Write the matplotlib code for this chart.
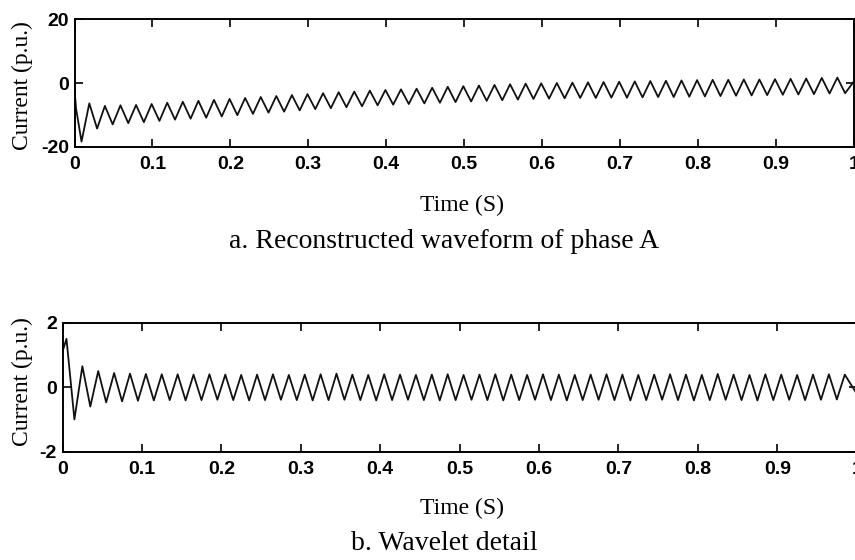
import numpy as np
import matplotlib.pyplot as plt

W, H = 855, 560

# ---- phase A reconstructed waveform (50 Hz, extrema)
a_start_t = [0.0, 0.002]
a_start_v = [-2.0, -8.0]
a_trough_t = np.arange(0.009, 1.0, 0.02)   # 50 troughs
a_trough_v = [-18.4, -14.3, -13.0, -12.6, -12.3, -11.9, -11.5, -11.2, -10.9, -10.5,
              -10.1, -9.7, -9.3, -9.0, -8.6, -8.2, -7.9, -7.6, -7.3, -7.0,
              -6.8, -6.6, -6.4, -6.2, -6.0, -5.8, -5.6, -5.4, -5.2, -5.0,
              -4.9, -4.8, -4.7, -4.7, -4.6, -4.6, -4.5, -4.4, -4.4, -4.3,
              -4.2, -4.1, -4.0, -3.9, -3.8, -3.7, -3.6, -3.5, -3.3, -3.2]
a_peak_t = np.arange(0.019, 0.99, 0.02)    # 49 peaks
a_peak_v = [-6.4, -7.2, -7.0, -6.9, -6.6, -6.2, -5.9, -5.6, -5.3, -5.0,
            -4.7, -4.4, -4.1, -3.8, -3.5, -3.2, -2.9, -2.7, -2.4, -2.2,
            -2.0, -1.8, -1.5, -1.2, -1.0, -0.8, -0.6, -0.4, -0.2, -0.1,
            0.0, 0.1, 0.2, 0.3, 0.4, 0.5, 0.6, 0.7, 0.8, 0.9,
            1.0, 1.0, 1.1, 1.1, 1.2, 1.3, 1.4, 1.6, 1.7]
a_end_t = [1.0]
a_end_v = [0.4]

# ---- wavelet detail
b_start_t = [0.0]
b_start_v = [1.1]
b_peak_t = np.arange(0.005, 0.99, 0.02)    # 50 peaks
b_peak_v = [1.5, 0.65, 0.5, 0.44, 0.42, 0.41, 0.40, 0.40, 0.39, 0.40,
            0.39, 0.38, 0.39, 0.40, 0.38, 0.39, 0.40, 0.42, 0.39, 0.38,
            0.40, 0.39, 0.38, 0.39, 0.40, 0.38, 0.39, 0.40, 0.39, 0.38,
            0.40, 0.39, 0.38, 0.39, 0.40, 0.39, 0.38, 0.39, 0.40, 0.39,
            0.38, 0.41, 0.39, 0.38, 0.40, 0.39, 0.38, 0.39, 0.40, 0.39]
b_trough_t = np.arange(0.015, 0.99, 0.02)  # 49 troughs
b_trough_v = [-1.0, -0.6, -0.47, -0.44, -0.42, -0.41, -0.40, -0.41, -0.40, -0.39,
              -0.40, -0.41, -0.40, -0.39, -0.40, -0.41, -0.40, -0.39, -0.40, -0.41,
              -0.40, -0.39, -0.40, -0.41, -0.40, -0.39, -0.40, -0.41, -0.40, -0.39,
              -0.40, -0.41, -0.40, -0.39, -0.40, -0.41, -0.40, -0.39, -0.40, -0.41,
              -0.40, -0.39, -0.40, -0.41, -0.40, -0.39, -0.40, -0.39, -0.38]
b_end_t = [1.0]
b_end_v = [-0.2]

xticks = [0, 0.1, 0.2, 0.3, 0.4, 0.5, 0.6, 0.7, 0.8, 0.9, 1]
xticklabels = ['0', '0.1', '0.2', '0.3', '0.4', '0.5', '0.6', '0.7', '0.8', '0.9', '1']


def series(*parts):
    t = np.concatenate([np.asarray(p[0], float) for p in parts])
    v = np.concatenate([np.asarray(p[1], float) for p in parts])
    o = np.argsort(t, kind='stable')
    return t[o], v[o]


def px_axes(fig, x0, x1, y0, y1):
    # pixel box (left, right, top, bottom) -> figure axes
    return fig.add_axes([x0 / W, 1 - y1 / H, (x1 - x0) / W, (y1 - y0) / H])


def style(ax, ylim, yticks):
    ax.set_xlim(0, 1)
    ax.set_ylim(*ylim)
    ax.set_xticks(xticks)
    ax.set_xticklabels(xticklabels)
    ax.set_yticks(yticks)
    ax.set_yticklabels([str(v) for v in yticks])
    ax.tick_params(direction='in', length=6, width=1.2, top=True, right=True,
                   labelsize=14, pad=7, colors='black')
    ax.tick_params(axis='y', pad=4)
    for lab in ax.get_xticklabels() + ax.get_yticklabels():
        lab.set_fontfamily('Liberation Sans')
        lab.set_fontweight('bold')
    for s in ax.spines.values():
        s.set_linewidth(1.4)


fig = plt.figure(figsize=(W / 100, H / 100), dpi=100)
serif = 'Liberation Serif'

ax1 = px_axes(fig, 74.5, 853.7, 19.3, 146.7)
t, v = series((a_start_t, a_start_v), (a_trough_t, a_trough_v),
              (a_peak_t, a_peak_v), (a_end_t, a_end_v))
ax1.plot(t, v, color='#111111', lw=1.3, solid_joinstyle='round')
style(ax1, (-20, 20), [-20, 0, 20])

ax2 = px_axes(fig, 62.5, 856.7, 322.7, 451.7)
t, v = series((b_start_t, b_start_v), (b_peak_t, b_peak_v),
              (b_trough_t, b_trough_v), (b_end_t, b_end_v))
ax2.plot(t, v, color='#111111', lw=1.3, solid_joinstyle='round')
style(ax2, (-2, 2), [-2, 0, 2])

fig.text(22 / W, 1 - 86 / H, 'Current (p.u.)', rotation=90, ha='center', va='center',
         fontsize=17, family=serif)
fig.text(22 / W, 1 - 382 / H, 'Current (p.u.)', rotation=90, ha='center', va='center',
         fontsize=17, family=serif)
fig.text(462 / W, 1 - 205 / H, 'Time (S)', ha='center', va='center', fontsize=17, family=serif)
fig.text(462 / W, 1 - 508 / H, 'Time (S)', ha='center', va='center', fontsize=17, family=serif)
fig.text(444 / W, 1 - 241 / H, 'a. Reconstructed waveform of phase A', ha='center',
         va='center', fontsize=20, family=serif)
fig.text(444 / W, 1 - 543 / H, 'b. Wavelet detail', ha='center', va='center',
         fontsize=20, family=serif)

fig.savefig('out.png', dpi=100)
